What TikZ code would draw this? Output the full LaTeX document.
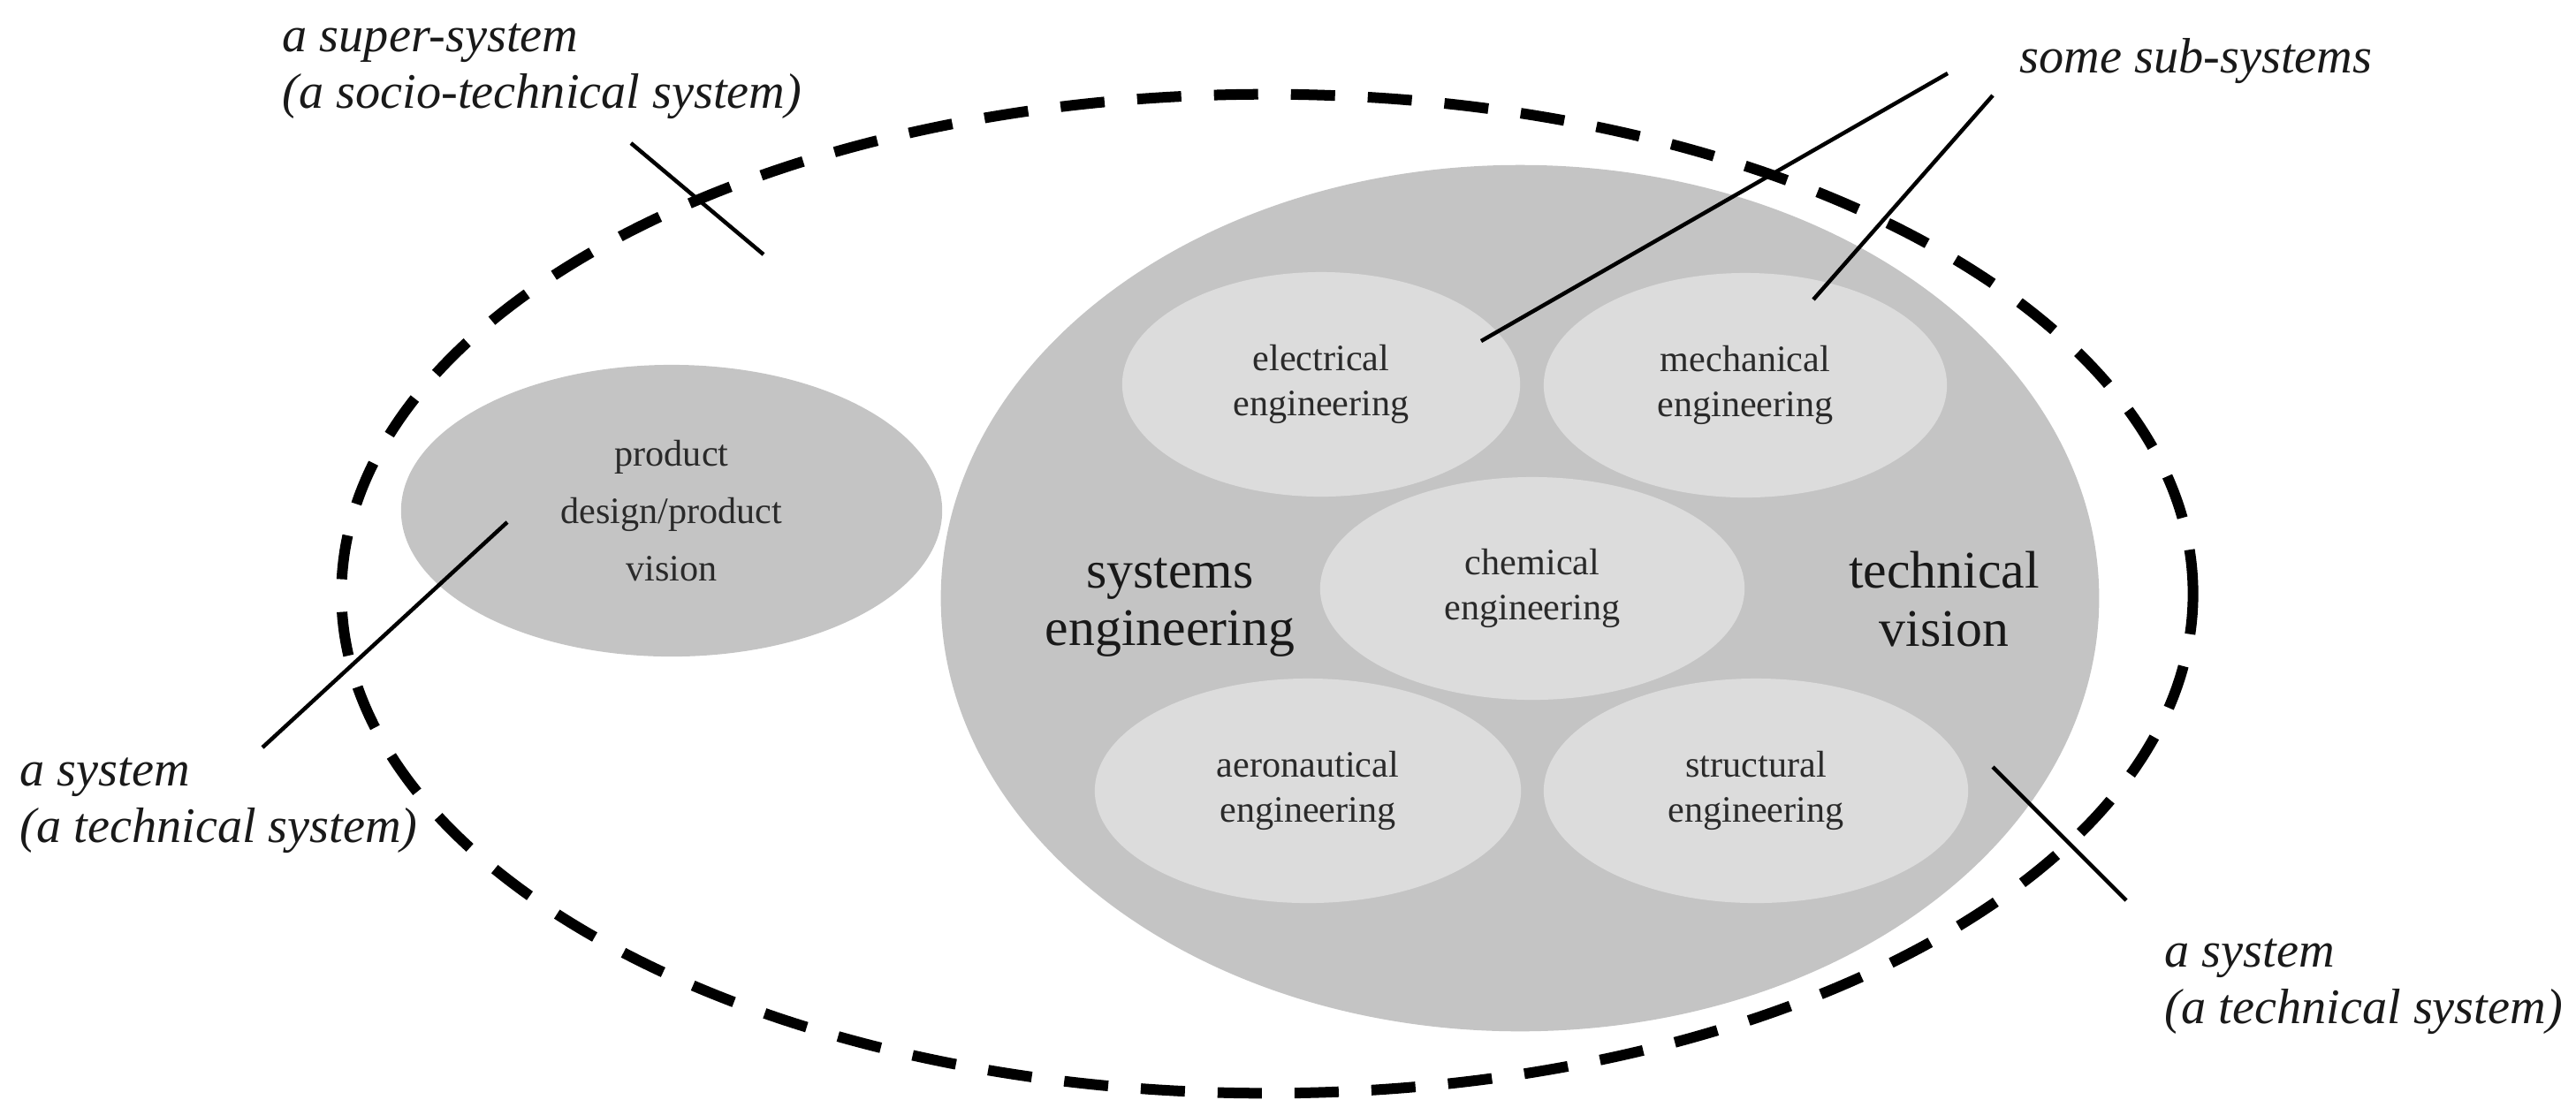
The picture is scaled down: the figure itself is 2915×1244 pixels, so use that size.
\documentclass[tikz,border=0pt]{standalone}
\usepackage{fontspec}
\setmainfont{Liberation Serif}
\usetikzlibrary{shapes.geometric}
\definecolor{bigGray}{HTML}{C4C4C4}
\definecolor{lightGray}{HTML}{DCDCDC}
\definecolor{txtGray}{HTML}{2A2A2A}
\begin{document}
\begin{tikzpicture}[x=0.01cm, y=-0.01cm,
  blob/.style={ellipse, inner sep=0pt, draw=none},
  superblob/.style={ellipse, inner sep=0pt, draw=black, line width=0.12cm, dash pattern=on 0.5cm off 0.37cm},
  grayblob/.style={blob, fill=bigGray},
  subblob/.style={blob, fill=lightGray, text=txtGray, font=\fontsize{12}{14.5}\selectfont, align=center},
  prodtext/.style={text=txtGray, font=\fontsize{12}{18.5}\selectfont, align=center},
  bigtext/.style={inner sep=0pt, text=black!90, font=\fontsize{17}{18.5}\selectfont, align=center},
  note/.style={inner sep=0pt, anchor=base west, align=left, text=black!90, font=\fontsize{16}{18.2}\selectfont\itshape},
  leader/.style={line width=0.045cm, black}]
\useasboundingbox (0,0) rectangle (2915,1244);
% outer dashed super-system
\node[superblob, minimum width=20.94cm, minimum height=11.30cm] (super) at (1434,672) {};
% technical system
\node[grayblob, minimum width=13.10cm, minimum height=9.80cm] (tech) at (1720,677) {};
% product design
\node[grayblob, prodtext, minimum width=6.12cm, minimum height=3.30cm] (product) at (760,578) {product\\design/product\\vision};
% sub-systems
\node[subblob, minimum width=4.50cm, minimum height=2.54cm] (elec) at (1495,435) {electrical\\engineering};
\node[subblob, minimum width=4.56cm, minimum height=2.54cm] (mech) at (1975,436) {mechanical\\engineering};
\node[subblob, minimum width=4.80cm, minimum height=2.52cm] (chem) at (1734,666) {chemical\\engineering};
\node[subblob, minimum width=4.82cm, minimum height=2.54cm] (aero) at (1480,895) {aeronautical\\engineering};
\node[subblob, minimum width=4.80cm, minimum height=2.54cm] (struct) at (1987,895) {structural\\engineering};
% big texts
\node[bigtext] (syseng) at (1324,688) {systems\\engineering};
\node[bigtext] (techvis) at (2200,678) {technical\\vision};
% labels (base anchor = baseline of the last line)
\node[note] (lsuper) at (319,122) {a super-system\\(a socio-technical system)};
\node[note] (lsub) at (2285,82) {some sub-systems};
\node[note] (lsysl) at (22,953) {a system\\(a technical system)};
\node[note] (lsysr) at (2449,1158) {a system\\(a technical system)};
% leader end points
\coordinate (cs1) at (714,162);
\coordinate (cs2) at (864,288);
\coordinate (cb1) at (2204,83);
\coordinate (ce1) at (1676,386);
\coordinate (cb2) at (2255,108);
\coordinate (cm1) at (2052,339);
\coordinate (cl1) at (297,846);
\coordinate (cp1) at (574,591);
\coordinate (cr1) at (2255,868);
\coordinate (cr2) at (2406,1019);
\draw[leader] (cs1) -- (cs2);
\draw[leader] (cb1) -- (ce1);
\draw[leader] (cb2) -- (cm1);
\draw[leader] (cl1) -- (cp1);
\draw[leader] (cr1) -- (cr2);
\end{tikzpicture}
\end{document}
